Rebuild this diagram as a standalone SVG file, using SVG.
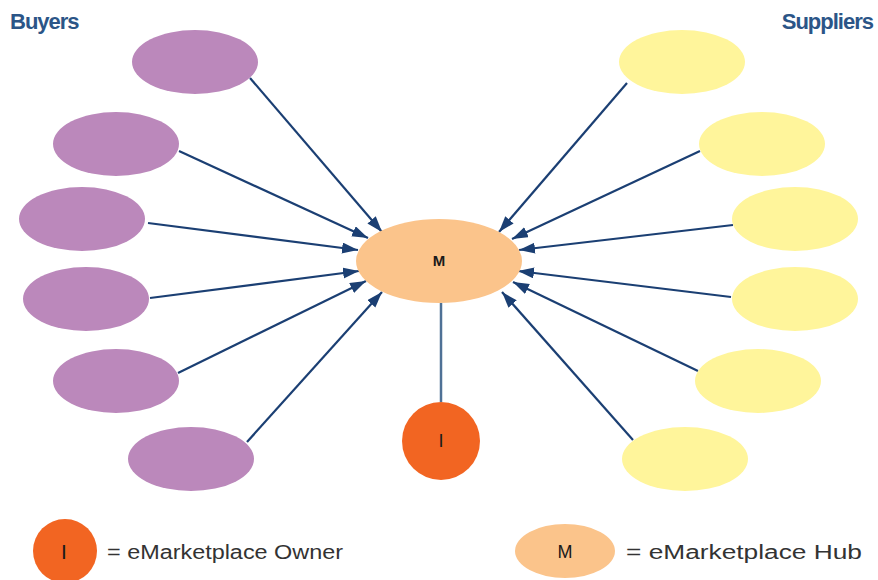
<svg xmlns="http://www.w3.org/2000/svg" width="878" height="580" viewBox="0 0 878 580">
<style>
.buyer{fill:#BB88BB}
.supplier{fill:#FFF59B}
.hub{fill:#FBC48B}
.owner{fill:#F26522}
.title{font-family:"Liberation Sans",Arial,sans-serif;font-size:22px;font-weight:bold;fill:#2B5587;letter-spacing:-1px}
.lbl{font-family:"Liberation Sans",Arial,sans-serif;fill:#1a1a1a;text-anchor:middle}
.leg{font-family:"Liberation Sans",Arial,sans-serif;font-size:20px;fill:#333333}
.arrow{stroke:#1B3F73;stroke-width:2.2;fill:none;marker-end:url(#ah)}
.link{stroke:#4F7196;stroke-width:2.5;fill:none}
</style>
<defs>
<marker id="ah" markerUnits="userSpaceOnUse" markerWidth="17" markerHeight="12" refX="16" refY="5.5" orient="auto">
<path d="M0,0 L16,5.5 L0,11 z" fill="#1B3F73"/>
</marker>
</defs>
<text class="title" x="10" y="29">Buyers</text>
<text class="title" x="873" y="29" text-anchor="end">Suppliers</text>
<g id="connectors">
<line class="arrow" x1="250" y1="78" x2="382" y2="232"/>
<line class="arrow" x1="179" y1="151" x2="368" y2="238"/>
<line class="arrow" x1="148" y1="223" x2="358" y2="250"/>
<line class="arrow" x1="150" y1="298" x2="359" y2="271"/>
<line class="arrow" x1="178" y1="373" x2="366" y2="281"/>
<line class="arrow" x1="247" y1="442" x2="382" y2="292"/>
<line class="arrow" x1="627" y1="83" x2="499" y2="232"/>
<line class="arrow" x1="700" y1="151" x2="512" y2="239"/>
<line class="arrow" x1="733" y1="225" x2="519" y2="250"/>
<line class="arrow" x1="731" y1="297" x2="518" y2="271"/>
<line class="arrow" x1="698" y1="371" x2="513" y2="282"/>
<line class="arrow" x1="633" y1="440" x2="502" y2="292"/>
<line class="link" x1="441" y1="303" x2="441" y2="402"/>
</g>
<g id="buyer1"><ellipse class="buyer" cx="195" cy="62" rx="63" ry="32"/></g>
<g id="buyer2"><ellipse class="buyer" cx="116" cy="144" rx="63" ry="32"/></g>
<g id="buyer3"><ellipse class="buyer" cx="82" cy="219" rx="63" ry="32"/></g>
<g id="buyer4"><ellipse class="buyer" cx="86" cy="299" rx="63" ry="32"/></g>
<g id="buyer5"><ellipse class="buyer" cx="116" cy="381" rx="63" ry="32"/></g>
<g id="buyer6"><ellipse class="buyer" cx="191" cy="459" rx="63" ry="32"/></g>
<g id="supplier1"><ellipse class="supplier" cx="682" cy="62" rx="63" ry="32"/></g>
<g id="supplier2"><ellipse class="supplier" cx="762" cy="144" rx="63" ry="32"/></g>
<g id="supplier3"><ellipse class="supplier" cx="795" cy="219" rx="63" ry="32"/></g>
<g id="supplier4"><ellipse class="supplier" cx="795" cy="299" rx="63" ry="32"/></g>
<g id="supplier5"><ellipse class="supplier" cx="758" cy="381" rx="63" ry="32"/></g>
<g id="supplier6"><ellipse class="supplier" cx="685" cy="459" rx="63" ry="32"/></g>
<g id="hub">
<ellipse class="hub" cx="439" cy="261" rx="83" ry="42"/>
<text class="lbl" x="439" y="266" font-size="15" font-weight="bold">M</text>
</g>
<g id="owner">
<circle class="owner" cx="441" cy="441" r="39"/>
<text class="lbl" x="441" y="447" font-size="18">I</text>
</g>
<g id="legend-owner">
<ellipse class="owner" cx="65" cy="551" rx="32" ry="32"/>
<text class="lbl" x="64" y="559" font-size="21">I</text>
<text class="leg" x="107" y="559" textLength="236" lengthAdjust="spacingAndGlyphs">= eMarketplace Owner</text>
</g>
<g id="legend-hub">
<ellipse class="hub" cx="565" cy="551" rx="50" ry="27"/>
<text class="lbl" x="565" y="558" font-size="18">M</text>
<text class="leg" x="626" y="559" textLength="236" lengthAdjust="spacingAndGlyphs">= eMarketplace Hub</text>
</g>
</svg>
